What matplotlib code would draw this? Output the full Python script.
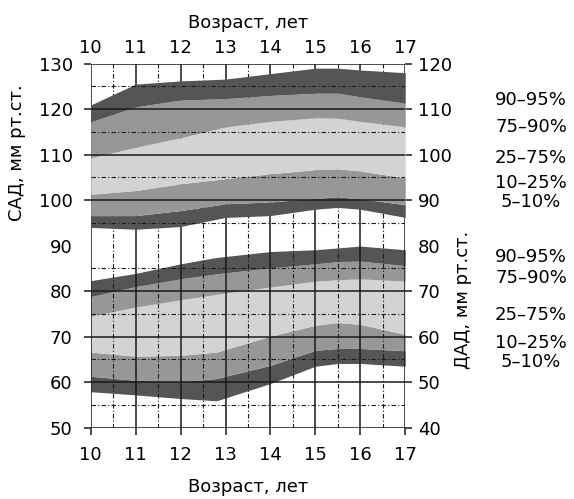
import matplotlib
matplotlib.use('Agg')
import matplotlib.pyplot as plt
import matplotlib.transforms as mtransforms

plt.rcParams['font.family'] = ['DejaVu Sans']
plt.rcParams['font.size'] = 13

# возраст, лет
sad_age = [10, 11, 12, 13, 14, 15, 15.5, 16, 17]
dad_age = [10, 11, 12, 12.8, 14, 15, 15.5, 16, 17]

# САД, мм рт.ст. (перцентили)
sad_p5 = [94.0, 93.6, 94.2, 96.2, 96.6, 98.0, 98.4, 98.0, 96.2]
sad_p10 = [96.6, 96.6, 97.7, 99.2, 99.6, 100.4, 100.7, 100.3, 99.0]
sad_p25 = [101.3, 102.1, 103.6, 104.7, 105.8, 106.7, 106.9, 106.4, 104.9]
sad_p75 = [109.3, 111.6, 113.7, 116.1, 117.3, 118.1, 118.0, 117.3, 116.1]
sad_p90 = [117.2, 120.5, 122.0, 122.3, 123.0, 123.5, 123.5, 122.7, 121.3]
sad_p95 = [120.9, 125.5, 126.2, 126.6, 127.8, 129.0, 129.0, 128.6, 128.0]

# ДАД, мм рт.ст. (перцентили)
dad_p5 = [47.9, 47.2, 46.4, 45.9, 49.7, 53.5, 54.1, 54.1, 53.5]
dad_p10 = [51.3, 50.4, 50.1, 50.8, 53.7, 57.0, 57.4, 57.4, 56.9]
dad_p25 = [56.6, 55.7, 55.9, 56.6, 60.1, 62.5, 63.1, 62.7, 60.5]
dad_p75 = [64.5, 66.5, 68.1, 69.3, 70.9, 72.2, 72.5, 72.7, 72.2]
dad_p90 = [68.8, 71.0, 72.7, 73.8, 75.1, 76.0, 76.5, 76.6, 75.6]
dad_p95 = [72.3, 73.9, 76.0, 77.4, 78.7, 79.1, 79.5, 79.9, 79.1]

band_labels = ['90–95%', '75–90%', '25–75%', '10–25%', '5–10%']
sad_label_y = [122.0, 116.1, 109.3, 103.8, 99.6]
dad_label_y = [87.5, 82.9, 74.8, 68.6, 64.4]

dark = '#555555'
mid = '#979797'
light = '#d3d3d3'
ink = '#1a1a1a'

fig = plt.figure(figsize=(5.74, 4.99), dpi=100)
ax = fig.add_axes([0.158, 0.143, 0.548, 0.7295])
ax.set_xlim(10, 17)
ax.set_ylim(50, 130)

ax2 = ax.twinx()
ax2.set_ylim(40, 120)

# полосы САД (левая шкала)
ax.fill_between(sad_age, sad_p5, sad_p10, color=dark, lw=0)
ax.fill_between(sad_age, sad_p10, sad_p25, color=mid, lw=0)
ax.fill_between(sad_age, sad_p25, sad_p75, color=light, lw=0)
ax.fill_between(sad_age, sad_p75, sad_p90, color=mid, lw=0)
ax.fill_between(sad_age, sad_p90, sad_p95, color=dark, lw=0)

# полосы ДАД (правая шкала)
ax2.fill_between(dad_age, dad_p5, dad_p10, color=dark, lw=0)
ax2.fill_between(dad_age, dad_p10, dad_p25, color=mid, lw=0)
ax2.fill_between(dad_age, dad_p25, dad_p75, color=light, lw=0)
ax2.fill_between(dad_age, dad_p75, dad_p90, color=mid, lw=0)
ax2.fill_between(dad_age, dad_p90, dad_p95, color=dark, lw=0)

# сетка
for x in range(10, 18):
    ax2.axvline(x, color=ink, lw=1.1, zorder=5)
for x in [10.5, 11.5, 12.5, 13.5, 14.5, 15.5, 16.5]:
    ax2.axvline(x, color=ink, lw=0.8, dashes=(4, 2, 1, 2), zorder=5)
for y in [130, 120, 110, 100, 80, 70, 60, 50]:
    ax.axhline(y, color=ink, lw=1.1, zorder=5)
for y in [125, 115, 105, 95, 85, 75, 65, 55]:
    ax.axhline(y, color=ink, lw=0.8, dashes=(4, 2, 1, 2), zorder=5)
ax.set_zorder(ax2.get_zorder() + 1)
ax.patch.set_visible(False)

for a in (ax, ax2):
    for s in a.spines.values():
        s.set_visible(False)

ax.set_xticks(range(10, 18))
ax.set_yticks(range(50, 131, 10))
ax2.set_yticks(range(40, 121, 10))
ax.tick_params(axis='x', length=5, width=1.1, pad=8, color=ink)
ax.tick_params(axis='y', length=5, width=1.1, pad=8, color=ink)
ax2.tick_params(axis='y', length=5, width=1.1, pad=4, color=ink)
ax.yaxis.get_major_ticks()[4].tick1line.set_visible(False)
ax2.yaxis.get_major_ticks()[4].tick2line.set_visible(False)

top = ax.secondary_xaxis('top')
top.set_xticks(range(10, 18))
top.tick_params(length=0, pad=5)
for s in top.spines.values():
    s.set_visible(False)
top.set_xlabel('Возраст, лет', labelpad=8)
ax.set_xlabel('Возраст, лет', labelpad=10)

fig.text(17 / 574, 1 - 153 / 499, 'САД, мм рт.ст.', rotation=90,
         ha='center', va='center')
fig.text(463 / 574, 1 - 300 / 499, 'ДАД, мм рт.ст.', rotation=90,
         ha='center', va='center')

trans = mtransforms.blended_transform_factory(fig.transFigure, ax.transData)
for lab, y in zip(band_labels, sad_label_y):
    ax.text(531 / 574, y, lab, transform=trans, ha='center', va='center', clip_on=False)
for lab, y in zip(band_labels, dad_label_y):
    ax.text(531 / 574, y, lab, transform=trans, ha='center', va='center', clip_on=False)

fig.savefig('out.png', dpi=100)
